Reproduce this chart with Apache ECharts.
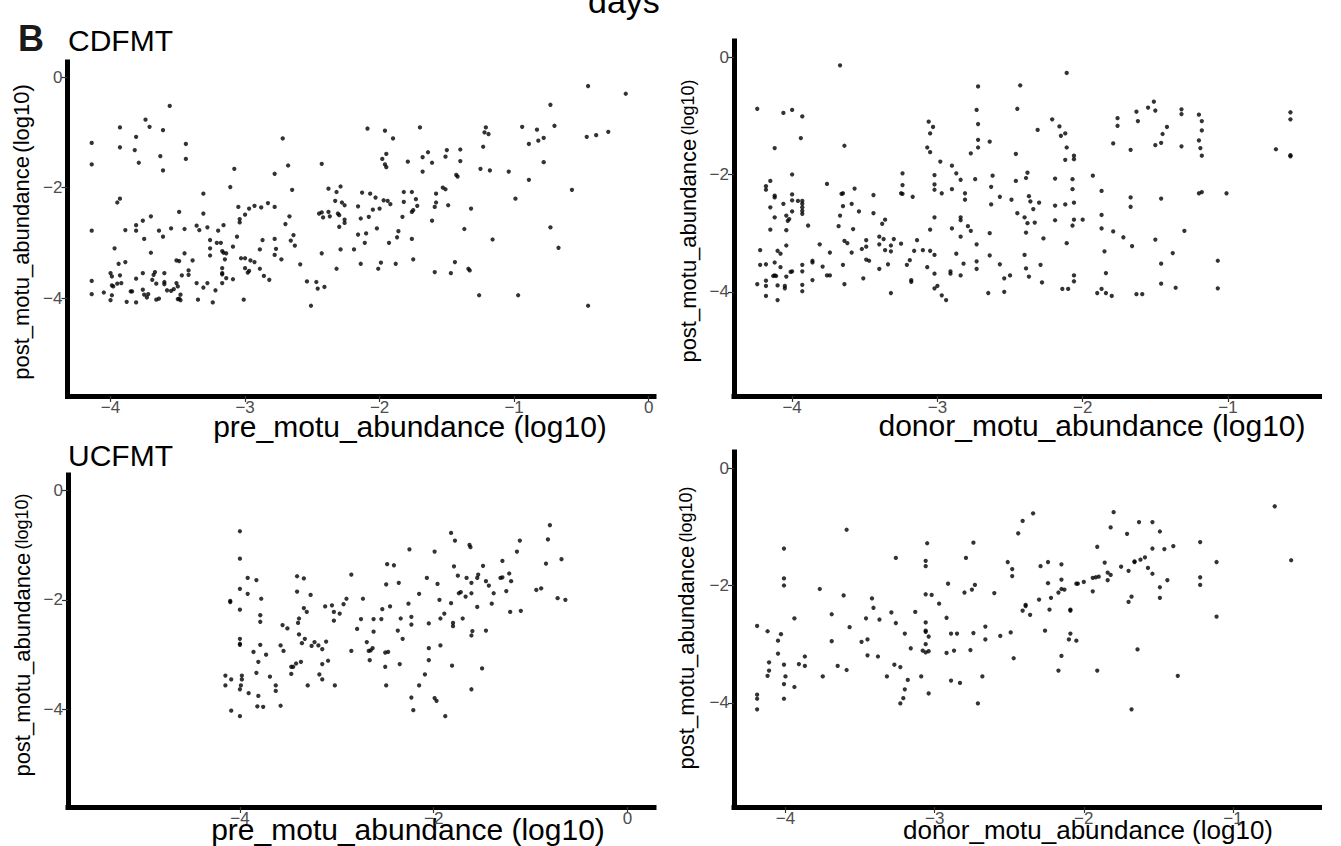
<!DOCTYPE html>
<html><head><meta charset="utf-8">
<script src="https://cdn.jsdelivr.net/npm/echarts@6.0.0/dist/echarts.min.js"></script>
<style>html,body{margin:0;padding:0;background:#fff}#c{width:1341px;height:846px}</style>
</head><body><div id="c"></div>
<script>
// ---- data (log10 abundances) ----
const yTickValues = [0, -2, -4];
const cdPreTicks = [-4, -3, -2, -1, 0];
const cdDonorTicks = [-4, -3, -2, -1];
const ucPreTicks = [-4, -2, 0];
const ucDonorTicks = [-4, -3, -2, -1];

// CDFMT: pre vs post
const cdfmtPrePost = [
[-0.45,-0.16],[-0.17,-0.30],[-0.73,-0.50],[-3.56,-0.52],[-3.74,-0.77],[-3.71,-0.90],[-3.93,-0.91],[-3.61,-0.96],
[-2.09,-0.93],[-1.96,-0.97],[-1.70,-0.91],[-1.90,-1.11],[-1.21,-0.91],[-1.22,-1.00],[-1.19,-1.03],[-0.94,-0.90],
[-0.83,-0.95],[-0.70,-0.88],[-0.46,-1.08],[-0.39,-1.05],[-0.30,-0.99],[-0.78,-1.10],[-0.82,-1.15],[-0.89,-1.21],
[-1.23,-1.26],[-2.72,-1.11],[-4.14,-1.19],[-3.44,-1.21],[-3.81,-1.08],[-3.93,-1.27],[-3.82,-1.32],[-3.63,-1.43],
[-3.44,-1.48],[-3.79,-1.55],[-4.14,-1.58],[-3.61,-1.69],[-2.43,-1.57],[-2.68,-1.60],[-1.98,-1.48],[-1.95,-1.39],
[-1.96,-1.58],[-1.95,-1.63],[-1.79,-1.53],[-1.68,-1.45],[-1.64,-1.36],[-1.61,-1.55],[-1.68,-1.71],[-1.51,-1.44],
[-1.50,-1.32],[-1.40,-1.31],[-1.40,-1.52],[-1.43,-1.77],[-1.42,-1.80],[-1.25,-1.66],[-1.18,-1.69],[-1.04,-1.71],
[-0.78,-1.54],[-0.89,-1.86],[-2.78,-1.75],[-3.08,-1.66],[-3.11,-1.99],[-2.65,-2.04],[-2.38,-2.02],[-2.29,-1.98],
[-2.32,-2.08],[-2.33,-2.24],[-2.28,-2.27],[-2.26,-2.32],[-2.13,-2.09],[-2.07,-2.11],[-2.03,-2.18],[-1.97,-2.23],
[-1.94,-2.24],[-1.92,-2.30],[-1.82,-2.08],[-1.76,-2.08],[-1.82,-2.26],[-1.73,-2.21],[-1.72,-2.33],[-1.75,-2.41],
[-1.76,-2.44],[-1.58,-2.11],[-1.53,-2.00],[-1.51,-2.03],[-1.58,-2.27],[-1.59,-2.35],[-1.49,-2.32],[-1.32,-2.38],
[-1.61,-2.60],[-1.37,-2.75],[-1.16,-2.94],[-0.99,-2.20],[-0.57,-2.04],[-0.73,-2.72],[-0.67,-3.09],[-3.31,-2.11],
[-3.93,-2.20],[-3.95,-2.27],[-3.31,-2.47],[-3.49,-2.44],[-3.70,-2.52],[-3.76,-2.60],[-3.81,-2.68],[-3.89,-2.77],
[-3.81,-2.78],[-4.14,-2.78],[-3.64,-2.78],[-3.55,-2.74],[-3.45,-2.75],[-3.61,-2.89],[-3.75,-2.93],[-3.36,-2.69],
[-3.34,-2.77],[-3.28,-2.72],[-3.20,-2.78],[-3.16,-2.68],[-3.26,-2.95],[-3.21,-3.00],[-3.18,-3.00],[-3.06,-2.89],
[-3.09,-3.07],[-3.26,-3.10],[-3.17,-3.15],[-3.16,-3.18],[-3.26,-3.23],[-3.15,-3.30],[-3.14,-3.19],[-3.05,-2.35],
[-3.04,-2.57],[-3.04,-2.63],[-3.00,-2.49],[-2.97,-2.38],[-2.93,-2.33],[-2.88,-2.36],[-2.83,-2.28],[-2.78,-2.35],
[-2.67,-2.52],[-2.70,-2.66],[-2.64,-2.86],[-2.66,-2.96],[-2.63,-3.05],[-2.78,-2.93],[-2.77,-3.11],[-2.78,-3.22],
[-2.73,-3.30],[-2.87,-2.95],[-2.89,-3.12],[-3.03,-3.28],[-3.00,-3.28],[-2.96,-3.32],[-2.93,-3.35],[-3.00,-3.46],
[-2.97,-3.51],[-2.98,-3.54],[-2.89,-3.47],[-2.86,-3.60],[-2.82,-3.67],[-3.09,-3.66],[-3.14,-3.64],[-3.17,-3.46],
[-3.17,-3.55],[-3.17,-3.57],[-3.17,-3.73],[-3.22,-3.86],[-3.24,-4.08],[-3.28,-3.73],[-3.31,-3.81],[-3.35,-4.03],
[-3.36,-3.73],[-3.39,-3.32],[-3.45,-3.19],[-3.51,-3.32],[-3.49,-3.33],[-3.42,-3.50],[-3.42,-3.58],[-3.47,-3.59],
[-3.51,-3.73],[-3.50,-3.79],[-3.53,-3.84],[-3.55,-3.87],[-3.58,-3.86],[-3.48,-3.94],[-3.49,-4.01],[-3.48,-4.04],
[-3.50,-4.02],[-3.60,-3.71],[-3.60,-3.55],[-3.67,-3.53],[-3.68,-3.58],[-3.69,-3.67],[-3.66,-3.74],[-3.64,-4.01],
[-3.66,-4.03],[-3.60,-3.75],[-3.70,-3.18],[-3.73,-3.99],[-3.72,-3.93],[-3.75,-3.94],[-3.76,-3.85],[-3.76,-3.55],
[-3.81,-3.65],[-3.85,-3.88],[-3.84,-3.88],[-3.88,-4.07],[-3.81,-4.08],[-3.89,-3.35],[-3.94,-3.38],[-3.93,-3.59],
[-3.92,-3.73],[-3.95,-3.74],[-3.97,-3.10],[-4.00,-3.55],[-3.99,-3.61],[-3.99,-3.77],[-3.98,-3.79],[-3.99,-3.95],
[-4.00,-4.04],[-4.05,-3.90],[-4.14,-3.69],[-4.14,-3.93],[-2.51,-4.14],[-3.01,-4.03],[-2.54,-3.70],[-2.47,-3.71],
[-2.46,-3.83],[-2.41,-3.80],[-2.43,-3.19],[-2.32,-3.47],[-2.29,-3.12],[-2.19,-3.12],[-2.14,-3.38],[-2.01,-3.47],
[-1.99,-3.36],[-1.88,-3.38],[-1.75,-3.30],[-1.87,-2.90],[-1.86,-2.79],[-1.93,-3.00],[-1.76,-2.93],[-2.02,-2.74],
[-2.10,-2.83],[-2.11,-3.00],[-2.16,-2.85],[-2.14,-2.56],[-2.08,-2.53],[-2.00,-2.38],[-2.05,-2.40],[-2.16,-2.34],
[-2.31,-2.47],[-2.26,-2.58],[-2.26,-2.64],[-2.30,-2.71],[-2.30,-2.50],[-2.38,-2.44],[-2.45,-2.47],[-2.43,-2.45],
[-2.42,-2.54],[-2.37,-2.52],[-1.83,-2.53],[-1.59,-3.53],[-1.47,-3.55],[-1.44,-3.35],[-1.34,-3.47],[-1.33,-3.50],
[-1.26,-3.95],[-0.97,-3.95],[-0.45,-4.14],[-2.59,-3.39]
];

// CDFMT: donor vs post
const cdfmtDonorPost = [
[-3.67,-0.14],[-2.11,-0.27],[-2.43,-0.48],[-2.72,-0.50],[-4.24,-0.88],[-4.06,-0.95],[-4.00,-0.90],[-3.93,-1.01],
[-3.94,-1.38],[-4.12,-1.55],[-3.64,-1.51],[-2.45,-0.88],[-2.73,-0.90],[-2.72,-1.14],[-2.72,-1.41],[-2.72,-1.54],
[-2.64,-1.44],[-2.77,-1.64],[-2.46,-1.65],[-3.06,-1.10],[-3.03,-1.19],[-3.05,-1.30],[-3.07,-1.54],[-3.05,-1.62],
[-2.98,-1.78],[-2.90,-1.85],[-2.87,-1.98],[-2.84,-2.09],[-3.02,-2.01],[-3.02,-2.17],[-3.02,-2.26],[-2.97,-2.32],
[-2.90,-2.25],[-2.74,-2.08],[-2.62,-2.02],[-2.63,-2.21],[-2.81,-2.32],[-2.81,-2.43],[-2.63,-2.51],[-2.57,-2.38],
[-2.49,-2.43],[-2.46,-2.11],[-2.38,-1.97],[-2.39,-2.06],[-2.31,-1.24],[-2.21,-1.06],[-2.16,-1.18],[-2.15,-1.34],
[-2.12,-1.30],[-2.11,-1.54],[-2.12,-1.75],[-2.06,-1.68],[-2.06,-1.74],[-2.19,-2.07],[-2.07,-2.08],[-2.07,-2.25],
[-2.06,-2.48],[-2.12,-2.51],[-2.19,-2.53],[-2.30,-2.48],[-2.37,-2.37],[-2.36,-2.46],[-2.34,-2.59],[-2.45,-2.66],
[-2.40,-2.73],[-2.38,-2.83],[-2.33,-2.82],[-2.39,-2.99],[-2.27,-3.09],[-2.19,-2.78],[-2.06,-2.77],[-2.00,-2.77],
[-2.07,-2.87],[-2.11,-3.17],[-1.93,-2.02],[-1.87,-2.28],[-1.87,-2.69],[-1.87,-2.92],[-1.79,-2.97],[-1.72,-3.07],
[-1.66,-3.22],[-1.85,-3.31],[-1.84,-3.68],[-1.87,-3.95],[-1.90,-4.02],[-1.84,-4.02],[-1.80,-4.07],[-1.63,-4.04],
[-1.59,-4.04],[-2.14,-3.95],[-2.10,-3.95],[-2.06,-3.72],[-2.06,-3.82],[-2.29,-3.54],[-2.28,-3.84],[-2.37,-3.74],
[-2.39,-3.60],[-2.40,-3.37],[-2.50,-3.72],[-2.54,-3.77],[-2.57,-3.53],[-2.54,-4.00],[-2.65,-4.02],[-2.64,-3.38],
[-2.64,-3.00],[-2.73,-3.19],[-2.73,-3.48],[-2.73,-3.61],[-2.84,-3.72],[-2.82,-3.52],[-2.87,-3.35],[-2.84,-3.06],
[-2.90,-2.92],[-2.79,-2.88],[-2.77,-2.96],[-2.84,-2.73],[-2.84,-2.78],[-2.91,-3.65],[-2.91,-3.69],[-3.02,-2.73],
[-3.05,-2.94],[-3.05,-3.30],[-3.02,-3.37],[-3.07,-3.58],[-3.02,-3.69],[-3.02,-3.94],[-3.00,-3.90],[-2.97,-4.06],
[-2.94,-4.14],[-3.10,-3.29],[-3.16,-3.30],[-3.14,-3.12],[-3.19,-3.46],[-3.21,-3.54],[-3.18,-3.80],[-3.18,-3.83],
[-3.32,-4.02],[-3.25,-3.18],[-3.30,-3.10],[-3.32,-3.21],[-3.32,-3.31],[-3.37,-3.10],[-3.40,-3.06],[-3.40,-3.19],
[-3.36,-3.29],[-3.34,-3.53],[-3.40,-3.61],[-3.49,-3.12],[-3.49,-3.23],[-3.52,-3.27],[-3.49,-3.45],[-3.47,-3.47],
[-3.51,-3.77],[-3.38,-2.84],[-3.36,-2.77],[-3.44,-2.66],[-3.44,-2.35],[-3.24,-1.98],[-3.24,-2.18],[-3.25,-2.32],
[-3.24,-2.33],[-3.17,-2.38],[-3.54,-2.63],[-3.57,-2.24],[-3.59,-2.50],[-3.58,-2.93],[-3.65,-2.32],[-3.66,-2.33],
[-3.65,-2.54],[-3.67,-2.70],[-3.68,-2.88],[-3.64,-3.13],[-3.62,-3.17],[-3.59,-3.33],[-3.65,-3.54],[-3.64,-3.87],
[-3.76,-2.16],[-3.81,-3.19],[-3.74,-3.33],[-3.79,-3.57],[-3.76,-3.72],[-3.74,-3.72],[-3.86,-3.47],[-3.86,-3.50],
[-3.86,-3.80],[-4.00,-2.00],[-4.00,-2.34],[-4.00,-2.44],[-4.00,-2.63],[-4.06,-2.50],[-4.04,-2.70],[-4.03,-2.79],
[-4.02,-2.76],[-4.04,-2.95],[-4.04,-3.21],[-4.10,-3.30],[-4.08,-3.35],[-4.12,-3.50],[-4.08,-3.58],[-4.12,-2.73],
[-4.12,-2.36],[-4.12,-2.39],[-4.15,-2.11],[-4.18,-2.20],[-4.18,-2.26],[-4.15,-2.56],[-4.15,-2.94],[-4.22,-3.29],
[-4.22,-3.54],[-4.18,-3.53],[-4.12,-3.72],[-4.13,-3.73],[-4.11,-3.73],[-4.04,-3.74],[-4.00,-3.65],[-4.01,-3.66],
[-3.93,-3.54],[-3.93,-3.65],[-3.93,-3.88],[-3.93,-3.99],[-4.24,-3.87],[-4.18,-3.81],[-4.18,-3.90],[-4.18,-4.07],
[-4.10,-4.14],[-4.10,-3.89],[-4.05,-3.90],[-4.05,-3.94],[-3.96,-2.45],[-3.93,-2.45],[-3.93,-2.50],[-3.93,-2.56],
[-3.93,-2.62],[-3.93,-2.67],[-3.89,-2.87],[-1.76,-1.04],[-1.76,-1.17],[-1.63,-0.93],[-1.62,-1.09],[-1.55,-0.86],
[-1.51,-0.76],[-1.50,-0.91],[-1.79,-1.47],[-1.67,-1.58],[-1.50,-1.50],[-1.46,-1.46],[-1.45,-1.31],[-1.42,-1.19],
[-1.32,-0.89],[-1.32,-0.97],[-1.32,-1.52],[-1.20,-0.98],[-1.18,-1.09],[-1.18,-1.25],[-1.20,-1.42],[-1.19,-1.55],
[-1.18,-1.68],[-1.20,-2.32],[-1.18,-2.30],[-1.01,-2.32],[-0.67,-1.57],[-0.57,-0.94],[-0.57,-1.06],[-0.57,-1.67],
[-0.57,-1.69],[-1.67,-2.39],[-1.67,-2.55],[-1.46,-2.41],[-1.30,-2.96],[-1.50,-3.11],[-1.38,-3.34],[-1.46,-3.52],
[-1.46,-3.86],[-1.36,-3.93],[-1.07,-3.47],[-1.07,-3.94]
];

// UCFMT: pre vs post
const ucfmtPrePost = [
[-4.00,-0.75],[-4.00,-1.25],[-4.00,-1.80],[-4.00,-2.18],[-4.10,-2.02],[-4.10,-2.04],[-3.92,-1.60],[-3.83,-1.64],
[-3.92,-1.89],[-3.78,-1.98],[-3.79,-2.28],[-3.79,-2.40],[-4.00,-2.71],[-4.00,-2.80],[-4.00,-2.82],[-3.79,-2.82],
[-3.86,-2.95],[-3.81,-3.13],[-3.73,-3.00],[-3.83,-3.33],[-4.15,-3.38],[-4.09,-3.45],[-4.15,-3.56],[-3.98,-3.38],
[-3.98,-3.45],[-3.99,-3.56],[-4.00,-3.63],[-3.91,-3.70],[-3.81,-3.75],[-3.82,-3.94],[-3.76,-3.95],[-3.69,-3.40],
[-3.63,-3.56],[-3.63,-3.66],[-3.58,-3.93],[-4.09,-4.02],[-4.00,-4.12],[-3.58,-2.83],[-3.55,-2.93],[-3.56,-2.46],
[-3.51,-2.52],[-3.41,-1.57],[-3.34,-1.61],[-3.41,-1.85],[-3.27,-1.91],[-3.34,-2.15],[-3.31,-2.22],[-3.39,-2.34],
[-3.40,-2.42],[-3.39,-2.63],[-3.33,-2.71],[-3.36,-2.79],[-3.23,-2.77],[-3.19,-2.83],[-3.26,-2.84],[-3.47,-3.22],
[-3.47,-3.35],[-3.45,-3.22],[-3.42,-3.16],[-3.37,-3.13],[-3.30,-3.56],[-3.18,-3.36],[-3.15,-2.90],[-3.15,-3.17],
[-3.15,-3.45],[-3.09,-3.11],[-3.11,-2.76],[-3.02,-3.56],[-3.12,-2.12],[-3.05,-2.10],[-3.03,-2.38],[-3.03,-2.22],
[-2.97,-2.25],[-2.93,-2.08],[-2.90,-1.98],[-2.85,-1.54],[-2.73,-1.98],[-2.79,-2.53],[-2.75,-2.35],[-2.85,-2.93],
[-2.69,-2.77],[-2.67,-2.93],[-2.65,-2.92],[-2.63,-2.88],[-2.66,-3.10],[-2.62,-2.58],[-2.62,-2.35],[-2.54,-2.35],
[-2.53,-2.17],[-2.48,-1.35],[-2.41,-1.37],[-2.49,-1.72],[-2.36,-1.69],[-2.45,-2.12],[-2.50,-2.96],[-2.47,-2.95],
[-2.50,-3.22],[-2.49,-3.56],[-2.35,-3.17],[-2.37,-2.56],[-2.34,-2.34],[-2.32,-2.71],[-2.25,-1.08],[-2.26,-2.07],
[-2.23,-2.31],[-2.23,-2.45],[-2.15,-1.89],[-2.09,-3.36],[-2.15,-3.56],[-2.23,-3.78],[-2.21,-4.01],[-2.07,-1.60],
[-2.05,-2.43],[-2.05,-2.88],[-2.05,-3.10],[-1.99,-1.12],[-1.96,-1.71],[-1.94,-2.00],[-1.93,-2.34],[-1.89,-2.25],
[-1.93,-2.83],[-1.99,-3.79],[-1.97,-3.84],[-1.88,-4.12],[-1.82,-0.78],[-1.78,-0.92],[-1.79,-1.39],[-1.75,-1.56],
[-1.82,-2.06],[-1.80,-2.42],[-1.80,-2.48],[-1.70,-2.34],[-1.81,-3.20],[-1.74,-1.88],[-1.72,-1.86],[-1.67,-1.94],
[-1.63,-1.00],[-1.62,-1.04],[-1.66,-1.60],[-1.61,-1.69],[-1.61,-1.88],[-1.60,-2.57],[-1.61,-2.65],[-1.61,-3.63],
[-1.55,-1.60],[-1.54,-1.54],[-1.55,-2.13],[-1.49,-1.38],[-1.46,-1.66],[-1.43,-1.74],[-1.46,-2.56],[-1.50,-3.25],
[-1.40,-2.07],[-1.38,-1.88],[-1.31,-1.60],[-1.29,-1.59],[-1.29,-1.29],[-1.25,-1.84],[-1.22,-1.52],[-1.20,-1.66],
[-1.21,-2.22],[-1.14,-1.12],[-1.11,-0.92],[-1.10,-2.20],[-0.94,-1.82],[-0.89,-1.79],[-0.84,-1.34],[-0.82,-0.90],
[-0.80,-0.64],[-0.68,-1.26],[-0.72,-1.97],[-0.64,-2.00]
];

// UCFMT: donor vs post
const ucfmtDonorPost = [
[-0.72,-0.65],[-1.80,-0.75],[-2.34,-0.77],[-2.41,-0.90],[-2.44,-1.11],[-1.82,-1.01],[-1.63,-0.92],[-1.54,-0.92],
[-1.49,-1.08],[-1.71,-1.12],[-1.22,-1.26],[-1.40,-1.33],[-1.46,-1.38],[-1.54,-1.37],[-1.91,-1.34],[-1.86,-1.61],
[-1.59,-1.52],[-1.62,-1.56],[-1.66,-1.59],[-1.66,-1.60],[-1.57,-1.70],[-1.54,-1.80],[-1.49,-2.03],[-1.49,-2.21],
[-1.44,-1.91],[-1.70,-1.75],[-1.75,-1.68],[-1.84,-1.78],[-1.82,-1.82],[-1.84,-1.91],[-1.90,-1.85],[-1.92,-1.86],
[-1.94,-1.87],[-1.94,-2.10],[-2.00,-1.94],[-2.04,-1.97],[-2.05,-1.97],[-2.09,-2.41],[-2.09,-2.43],[-2.15,-2.06],
[-2.13,-2.07],[-2.15,-1.90],[-2.15,-1.64],[-2.24,-1.60],[-2.29,-1.67],[-2.24,-1.96],[-2.17,-2.12],[-2.22,-2.21],
[-2.30,-2.24],[-2.23,-2.41],[-2.26,-2.77],[-2.39,-2.33],[-2.39,-2.35],[-2.41,-2.43],[-2.36,-2.50],[-2.51,-1.60],
[-2.48,-1.72],[-2.48,-1.84],[-2.49,-2.80],[-2.47,-3.24],[-2.74,-1.27],[-2.79,-1.53],[-2.73,-1.99],[-2.75,-2.07],
[-2.80,-2.12],[-2.60,-2.13],[-2.66,-2.70],[-2.66,-2.92],[-2.56,-2.86],[-2.74,-2.81],[-2.85,-2.82],[-2.89,-2.82],
[-2.91,-1.97],[-2.92,-2.55],[-2.87,-3.11],[-2.92,-3.15],[-2.76,-3.10],[-2.68,-3.55],[-2.71,-4.01],[-2.89,-3.62],
[-2.83,-3.66],[-2.97,-2.31],[-3.02,-2.16],[-3.06,-2.15],[-3.05,-1.28],[-3.06,-1.58],[-3.06,-1.67],[-3.06,-2.63],
[-3.06,-2.77],[-3.06,-2.79],[-3.04,-2.87],[-3.06,-3.00],[-3.08,-3.11],[-3.06,-3.14],[-3.04,-3.12],[-3.04,-3.84],
[-3.09,-3.55],[-3.13,-2.45],[-3.16,-3.07],[-3.20,-2.82],[-3.26,-1.53],[-3.26,-2.64],[-3.29,-2.46],[-3.27,-3.35],
[-3.23,-3.39],[-3.18,-3.61],[-3.20,-3.77],[-3.21,-3.92],[-3.23,-4.01],[-3.32,-3.55],[-3.37,-2.58],[-3.38,-3.21],
[-3.42,-2.22],[-3.41,-2.38],[-3.46,-2.56],[-3.45,-2.92],[-3.49,-2.96],[-3.45,-3.19],[-3.59,-1.05],[-3.61,-2.17],
[-3.57,-2.71],[-3.59,-3.44],[-3.65,-3.37],[-3.69,-2.49],[-3.69,-2.95],[-3.75,-3.55],[-3.77,-2.06],[-3.87,-3.21],
[-3.87,-3.37],[-3.91,-3.34],[-3.94,-2.56],[-3.94,-3.73],[-4.01,-1.37],[-4.01,-1.88],[-4.01,-2.00],[-4.01,-3.35],
[-4.00,-3.55],[-4.01,-3.68],[-4.01,-3.93],[-4.03,-2.83],[-4.05,-2.94],[-4.05,-3.16],[-4.11,-3.31],[-4.11,-3.45],
[-4.12,-3.54],[-4.12,-2.78],[-4.19,-2.69],[-4.19,-3.86],[-4.19,-3.93],[-4.19,-4.11],[-1.91,-3.45],[-2.17,-3.45],
[-2.15,-3.20],[-2.10,-2.92],[-2.05,-2.94],[-2.09,-2.82],[-1.70,-2.28],[-1.68,-2.19],[-1.64,-3.09],[-1.68,-4.11],
[-1.37,-3.54],[-1.22,-1.86],[-1.22,-1.99],[-1.11,-1.60],[-1.11,-2.53],[-0.61,-1.57]
];

// ---- chart ----
const FF = '"Liberation Sans", Arial, Helvetica, sans-serif';
const fmt = v => (v < 0 ? '\u2212' + Math.abs(v) : String(v));
const grids = [
  {left: 67.5, top: 62, width: 586.5, height: 334},
  {left: 734, top: 41, width: 585.5, height: 355},
  {left: 68, top: 475, width: 586, height: 332},
  {left: 734, top: 452, width: 585.5, height: 355}
];
const xRanges = [[-4.32, 0.04], [-4.40, -0.37], [-5.775, 0.275], [-4.345, -0.42]];
const xTicks = [cdPreTicks, cdDonorTicks, ucPreTicks, ucDonorTicks];
const yRange = [-5.775, 0.275];
const datasets = [cdfmtPrePost, cdfmtDonorPost, ucfmtPrePost, ucfmtDonorPost];

function axisBase(ticks, margin) {
  return {
    type: 'value', splitLine: {show: false},
    axisLine: {show: true, onZero: false, lineStyle: {color: '#000', width: 5, cap: 'square'}},
    axisTick: {show: true, customValues: ticks, length: 6, lineStyle: {color: '#333', width: 1.2}},
    axisLabel: {customValues: ticks, formatter: fmt, color: '#4d4d4d', fontSize: 17, fontFamily: FF, margin: margin}
  };
}
const xAxis = grids.map((g, i) => Object.assign(axisBase(xTicks[i], 3), {gridIndex: i, min: xRanges[i][0], max: xRanges[i][1]}));
const yAxis = grids.map((g, i) => Object.assign(axisBase(yTickValues, 5), {gridIndex: i, min: yRange[0], max: yRange[1]}));
const series = datasets.map((d, i) => ({
  type: 'scatter', xAxisIndex: i, yAxisIndex: i, data: d, symbolSize: 4.3,
  itemStyle: {color: '#000'}, silent: true, animation: false
}));

function ytitle(x, y, small) {
  return {type: 'text', x: x, y: y, rotation: Math.PI / 2, silent: true,
    style: {text: '{a|post_motu_abundance} {b|(log10)}', textAlign: 'center', textVerticalAlign: 'middle', fill: '#000',
      rich: {a: {fontSize: 22, fontFamily: FF, fill: '#000'}, b: {fontSize: small ? 18 : 22, fontFamily: FF, fill: '#000'}}}};
}
function xtitle(text, x, y, size) {
  return {type: 'text', x: x, y: y, silent: true,
    style: {text: text, textAlign: 'center', textVerticalAlign: 'middle', fill: '#000', font: size + 'px ' + FF}};
}
const graphic = [
  {type: 'text', x: 18, y: 38, silent: true, style: {text: 'B', textVerticalAlign: 'middle', fill: '#1a1a1a', font: 'bold 36px ' + FF}},
  {type: 'text', x: 68, y: 40, silent: true, style: {text: 'CDFMT', textVerticalAlign: 'middle', fill: '#000', font: '30px ' + FF}},
  {type: 'text', x: 68, y: 455, silent: true, style: {text: 'UCFMT', textVerticalAlign: 'middle', fill: '#000', font: '30px ' + FF}},
  {type: 'text', x: 588, y: 1, silent: true, style: {text: 'days', textVerticalAlign: 'middle', fill: '#000', font: '34px ' + FF}},
  ytitle(21, 232, false), ytitle(688, 221, true), ytitle(22, 635, true), ytitle(686, 628, true),
  xtitle('pre_motu_abundance (log10)', 410, 426, 30),
  xtitle('donor_motu_abundance (log10)', 1092, 425, 30),
  xtitle('pre_motu_abundance (log10)', 408, 829, 30),
  xtitle('donor_motu_abundance (log10)', 1088, 830, 26)
];

const chart = echarts.init(document.getElementById('c'), null, {renderer: 'svg', width: 1341, height: 846});
chart.setOption({
  animation: false, backgroundColor: '#fff',
  grid: grids, xAxis: xAxis, yAxis: yAxis, series: series, graphic: graphic
});
</script></body></html>
